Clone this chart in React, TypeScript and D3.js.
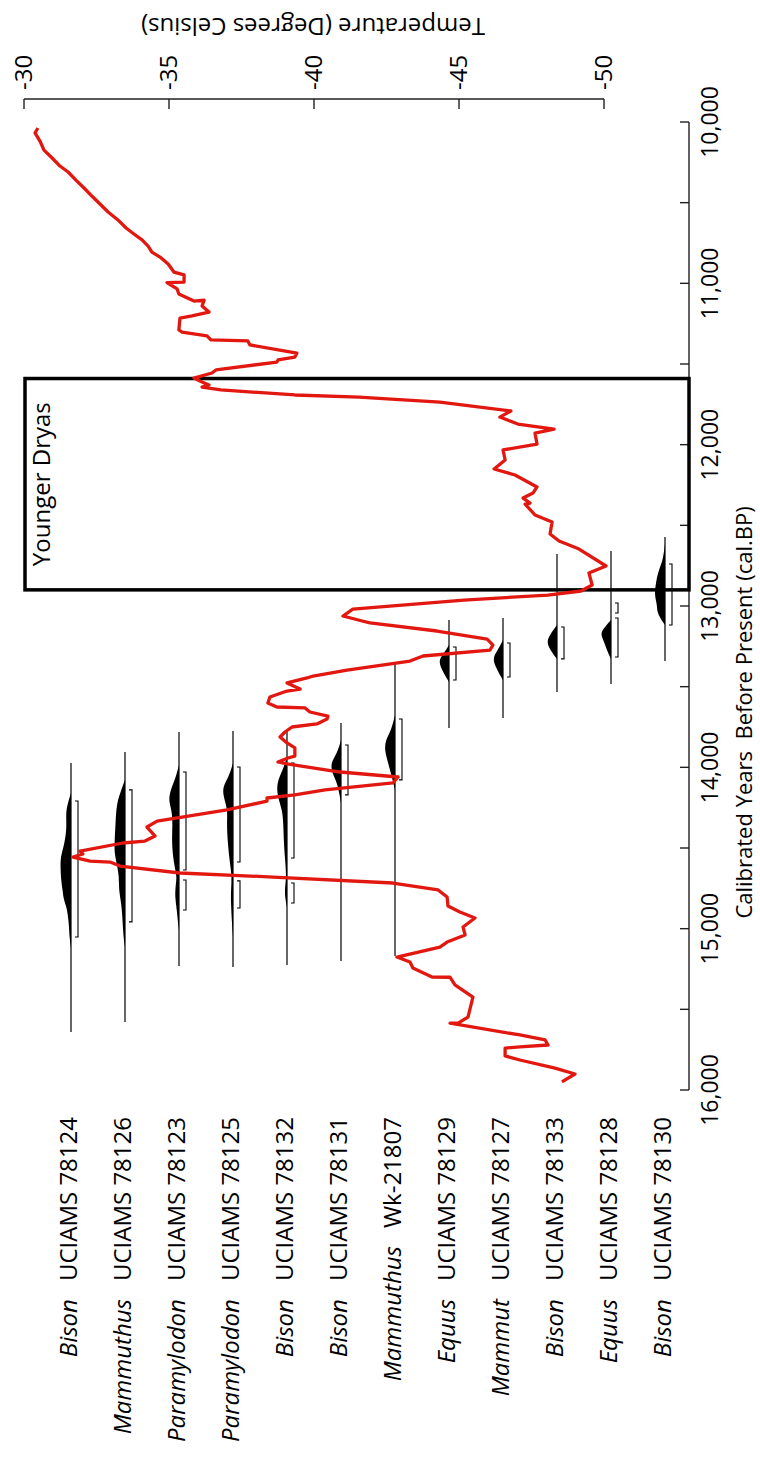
import * as d3 from 'd3';

// GISP2-style temperature record (cal. BP / degrees C)
const tempYears = [
  10037, 10068, 10118, 10174, 10223, 10273, 10310, 10360, 10409, 10459, 10508, 10558, 10607, 10657, 10694,
  10731, 10769, 10806, 10837, 10880, 10930, 10948, 10992, 10995, 11035, 11066, 11110, 11104, 11140, 11178,
  11202, 11215, 11289, 11302, 11326, 11351, 11357, 11382, 11432, 11457, 11475, 11488, 11537, 11556, 11587,
  11612, 11630, 11643, 11661, 11692, 11705, 11736, 11791, 11829, 11872, 11903, 11928, 11996, 12033, 12095,
  12151, 12188, 12262, 12300, 12331, 12362, 12368, 12436, 12479, 12554, 12597, 12647, 12752, 12795, 12870,
  12907, 12932, 12963, 13019, 13062, 13093, 13105, 13155, 13205, 13242, 13273, 13310, 13341, 13397, 13434,
  13446, 13477, 13515, 13527, 13564, 13601, 13626, 13632, 13657, 13682, 13700, 13731, 13750, 13781, 13812,
  13849, 13880, 13930, 13942, 13967, 13979, 14029, 14060, 14097, 14140, 14171, 14190, 14209, 14264, 14333,
  14370, 14426, 14457, 14469, 14519, 14537, 14556, 14581, 14587, 14612, 14655, 14680, 14717, 14760, 14804,
  14860, 14897, 14934, 14990, 15039, 15083, 15114, 15176, 15207, 15244, 15300, 15301, 15349, 15424, 15548,
  15585, 15586, 15659, 15690, 15721, 15733, 15740, 15789, 15814, 15864, 15901, 15950,
];
const tempValues = [
  -30.48, -30.38, -30.55, -30.69, -30.97, -31.24, -31.52, -31.79, -32.07, -32.34, -32.62, -32.9, -33.24, -33.52, -33.79,
  -34.07, -34.28, -34.41, -34.69, -34.97, -35.17, -35.52, -35.52, -34.93, -35.28, -35.34, -35.86, -36.21, -36.14, -36.38,
  -35.79, -35.38, -35.34, -35.45, -36.31, -36.45, -37.72, -37.79, -39.41, -39.34, -38.76, -38.72, -36.62, -36.48, -35.86,
  -36.14, -36.38, -36.14, -36.79, -39.34, -41.55, -44.34, -46.79, -46.41, -47.03, -48.28, -47.62, -47.69, -46.52, -46.59,
  -46.21, -46.93, -47.69, -47.55, -47.21, -47.45, -47.28, -47.62, -48.21, -48.14, -48.45, -49.14, -50.07, -49.48, -49.59,
  -49.21, -48.07, -45.17, -41.34, -41.0, -41.66, -41.93, -44.24, -45.97, -46.17, -46.07, -43.76, -43.31, -41.14, -39.97,
  -39.76, -39.07, -39.52, -39.07, -38.48, -38.41, -38.72, -39.69, -39.86, -40.48, -40.45, -40.1, -39.24, -39.0, -38.83,
  -39.07, -39.34, -39.34, -39.1, -38.76, -39.07, -40.9, -42.9, -42.72, -40.38, -39.34, -38.38, -38.38, -37.0, -34.59,
  -34.24, -34.52, -34.17, -33.41, -31.93, -32.03, -31.69, -32.28, -32.97, -33.31, -35.38, -38.59, -42.72, -44.28, -44.59,
  -44.62, -45.03, -45.55, -45.14, -45.21, -44.59, -44.34, -42.86, -43.31, -43.41, -44.07, -44.69, -44.86, -45.48, -45.31,
  -44.97, -44.69, -47.1, -47.97, -48.07, -47.1, -46.59, -46.59, -47.1, -48.31, -49.0, -48.55,
];

// radiocarbon samples
const genera = ['Bison', 'Mammuthus', 'Paramylodon', 'Paramylodon', 'Bison', 'Bison', 'Mammuthus', 'Equus', 'Mammut', 'Bison', 'Equus', 'Bison'];
const labCodes = [
  'UCIAMS 78124', 'UCIAMS 78126', 'UCIAMS 78123', 'UCIAMS 78125', 'UCIAMS 78132', 'UCIAMS 78131',
  'Wk-21807', 'UCIAMS 78129', 'UCIAMS 78127', 'UCIAMS 78133', 'UCIAMS 78128', 'UCIAMS 78130',
];
const plotRanges = [
  [13973, 15641], [13905, 15578], [13781, 15231], [13775, 15237], [13781, 15225], [13725, 15200],
  [13359, 15169], [13087, 13756], [13074, 13694], [12678, 13533], [12659, 13483], [12572, 13341],
];
const sigmaRanges = [
  [[14209, 15052]],
  [[14140, 14958]],
  [[14029, 14636], [14698, 14884]],
  [[13998, 14587], [14704, 14872]],
  [[13973, 14562], [14717, 14841]],
  [[13862, 14171]],
  [[13700, 14078]],
  [[13254, 13459]],
  [[13229, 13440]],
  [[13130, 13328]],
  [[12981, 13043], [13074, 13316]],
  [[12740, 13118]],
];
const densityYears = [
  [14159, 14221, 14283, 14370, 14469, 14556, 14618, 14698, 14760, 14822, 14866, 14965, 15052, 15120],
  [14078, 14140, 14221, 14345, 14469, 14531, 14593, 14680, 14760, 14841, 14928, 15052, 15114],
  [13985, 14060, 14140, 14202, 14264, 14345, 14469, 14593, 14680, 14717, 14804, 14884, 14965, 15008],
  [13973, 14060, 14122, 14184, 14264, 14345, 14469, 14593, 14680, 14760, 14841, 14965, 15052],
  [13936, 14017, 14097, 14184, 14264, 14345, 14469, 14556, 14680, 14742, 14804, 14866],
  [13831, 13911, 13973, 14035, 14097, 14184, 14221],
  [13676, 13769, 13831, 13893, 13973, 14060, 14140],
  [13242, 13291, 13335, 13384, 13440, 13471],
  [13211, 13273, 13322, 13378, 13428, 13459],
  [13118, 13174, 13223, 13273, 13328],
  [13087, 13142, 13174, 13223, 13273, 13328],
  [12616, 12721, 12783, 12870, 12932, 12994, 13037, 13074, 13118],
];
const densityValues = [
  [0, 0.3, 0.5, 0.4, 0.6, 1.0, 1.0, 0.95, 0.8, 0.7, 0.4, 0.2, 0.15, 0],
  [0, 0.35, 0.8, 0.9, 1.0, 1.0, 0.8, 0.55, 0.6, 0.35, 0.25, 0.15, 0],
  [0, 0.3, 0.8, 1.0, 0.7, 0.6, 0.7, 0.5, 0.2, 0.3, 0.4, 0.2, 0.1, 0],
  [0, 0.4, 1.0, 0.9, 0.5, 0.6, 0.5, 0.3, 0.1, 0.2, 0.2, 0.1, 0],
  [0, 0.4, 1.0, 0.9, 0.45, 0.35, 0.3, 0.2, 0.05, 0.2, 0.2, 0],
  [0, 0.35, 1.0, 0.85, 0.35, 0.1, 0],
  [0, 0.35, 0.9, 1.0, 0.65, 0.3, 0],
  [0, 0.45, 1.0, 0.75, 0.3, 0],
  [0, 0.5, 1.0, 0.7, 0.3, 0],
  [0, 0.65, 1.0, 0.65, 0],
  [0, 0.75, 1.0, 0.65, 0.4, 0],
  [0, 0.2, 0.65, 0.9, 1.0, 0.75, 0.75, 0.45, 0],
];

const tempTicks = [-30, -35, -40, -45, -50];
const youngerDryas = [11590, 12900];

const ink = '#231f20';
const font = '"Open Sans", "Noto Sans", sans-serif';

export default function App() {
  const width = 760;
  const height = 1458;

  const y = d3.scaleLinear().domain([10000, 16000]).range([122, 1090]);
  const x = d3.scaleLinear().domain([-30, -50]).range([24, 604]);
  const col = d3.scalePoint<string>().domain(labCodes).range([71, 665]);
  const dens = d3.scaleLinear().domain([0, 1]).range([0, 10.5]);

  const axisX = 689;
  const axisY = 99;
  const yearTicks = d3.range(10000, 16001, 500);
  const fmt = d3.format(',');

  const tempLine = d3
    .line<number>()
    .x((_d, i) => x(tempValues[i]))
    .y((d) => y(d));

  return (
    <svg
      width={width}
      height={height}
      style={{ position: 'absolute', left: 0, top: 0, background: '#fff' }}
      fontFamily={font}
    >
      {/* temperature axis (top) */}
      <g>
        <line x1={x(-30)} x2={x(-50)} y1={axisY} y2={axisY} stroke={ink} strokeWidth={1.4} />
        {tempTicks.map((t) => (
          <g key={t}>
            <line x1={x(t)} x2={x(t)} y1={axisY} y2={axisY + 10} stroke={ink} strokeWidth={1.4} />
            <text
              transform={`translate(${x(t)},90) rotate(-90)`}
              dy="0.35em"
              fontSize={24}
              fill="#000"
            >
              {t}
            </text>
          </g>
        ))}
        <text transform="translate(313,18) rotate(180)" textAnchor="middle" fontSize={24} fill="#000">
          Temperature (Degrees Celsius)
        </text>
      </g>

      {/* year axis (right) */}
      <g>
        <line x1={axisX} x2={axisX} y1={y(10000)} y2={y(16000)} stroke={ink} strokeWidth={1.4} />
        {yearTicks.map((t) => (
          <g key={t}>
            <line x1={axisX - 9} x2={axisX} y1={y(t)} y2={y(t)} stroke={ink} strokeWidth={1.4} />
            {t % 1000 === 0 && (
              <text
                transform={`translate(718,${y(t)}) rotate(-90)`}
                textAnchor="middle"
                fontSize={23}
                fill="#000"
              >
                {fmt(t)}
              </text>
            )}
          </g>
        ))}
        <text
          transform={`translate(752,${y(13660)}) rotate(-90)`}
          textAnchor="middle"
          fontSize={22}
          fill="#000"
          style={{ whiteSpace: 'pre' }}
        >
          {'Calibrated Years  Before Present (cal.BP)'}
        </text>
      </g>

      {/* Younger Dryas */}
      <rect
        x={x(-30) + 1}
        y={y(youngerDryas[0])}
        width={axisX - x(-30) - 1}
        height={y(youngerDryas[1]) - y(youngerDryas[0])}
        fill="none"
        stroke="#000"
        strokeWidth={3.5}
      />
      <text
        transform={`translate(50,${(y(youngerDryas[0]) + y(youngerDryas[1])) / 2}) rotate(-90)`}
        textAnchor="middle"
        fontSize={24}
        fill="#000"
      >
        Younger Dryas
      </text>

      {/* calibrated dates */}
      {labCodes.map((code, i) => {
        const cx = col(code) ?? 0;
        const area = d3
          .area<number>()
          .y((d) => y(d))
          .x0(cx)
          .x1((_d, j) => cx - dens(densityValues[i][j]))
          .curve(d3.curveBasis);
        return (
          <g key={code}>
            <line
              x1={cx}
              x2={cx}
              y1={y(plotRanges[i][0])}
              y2={y(plotRanges[i][1])}
              stroke="#000"
              strokeWidth={1.2}
            />
            <path d={area(densityYears[i]) ?? ''} fill="#000" />
            {sigmaRanges[i].map(([a, b]) => (
              <path
                key={a}
                d={`M${cx + 4},${y(a)}H${cx + 7}V${y(b)}H${cx + 4}`}
                fill="none"
                stroke="#000"
                strokeWidth={1.1}
              />
            ))}
            <text
              transform={`translate(${cx + 6},1117) rotate(-90)`}
              textAnchor="end"
              fontSize={24}
              fill="#000"
              style={{ whiteSpace: 'pre' }}
            >
              <tspan fontStyle="italic">{genera[i]}</tspan>
              <tspan dx={18}>{code}</tspan>
            </text>
          </g>
        );
      })}

      {/* temperature curve */}
      <path
        d={tempLine(tempYears) ?? ''}
        fill="none"
        stroke="#e2170f"
        strokeWidth={3.3}
        strokeLinejoin="round"
      />
    </svg>
  );
}
